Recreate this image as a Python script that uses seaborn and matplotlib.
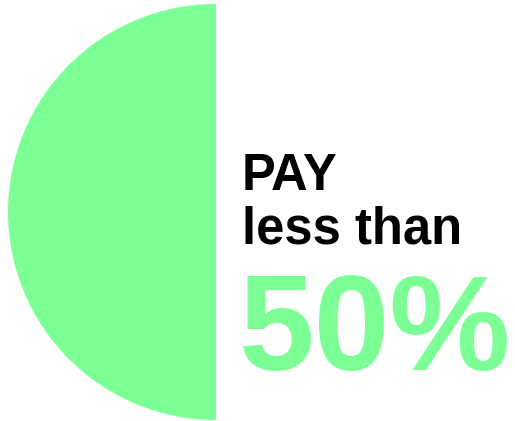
import matplotlib
matplotlib.use("Agg")
import matplotlib.pyplot as plt
import seaborn as sns

sns.set_style("white")
plt.rcParams['font.family'] = ['Liberation Sans', 'DejaVu Sans']

shares = [50, 50]
share_labels = ["pay less than 50%", "other"]
colors = ["#7CFF95", "none"]
title_line1 = "PAY"
title_line2 = "less than"
value_text = "50%"

W, H = 515, 421
fig = plt.figure(figsize=(W / 100, H / 100), dpi=100)
cx, cy, r = 216, 212, 208
ax = fig.add_axes([(cx - r) / W, (H - cy - r) / H, 2 * r / W, 2 * r / H])
ax.pie(shares, colors=colors, startangle=90, counterclock=True,
       wedgeprops=dict(linewidth=0))
ax.set_xlim(-1, 1)
ax.set_ylim(-1, 1)
ax.set_aspect("equal")
ax.axis("off")

def fy(px):
    return 1 - px / H

fig.text(242 / W, fy(190), title_line1, fontsize=36.5, fontweight="bold",
         color="black", va="baseline", ha="left")
fig.text(242 / W, fy(243), title_line2, fontsize=36.5, fontweight="bold",
         color="black", va="baseline", ha="left")
fig.text(239 / W, fy(370), value_text, fontsize=98, fontweight="bold",
         color="#7CFF95", va="baseline", ha="left")

fig.savefig("out.png", dpi=100, facecolor="white")
